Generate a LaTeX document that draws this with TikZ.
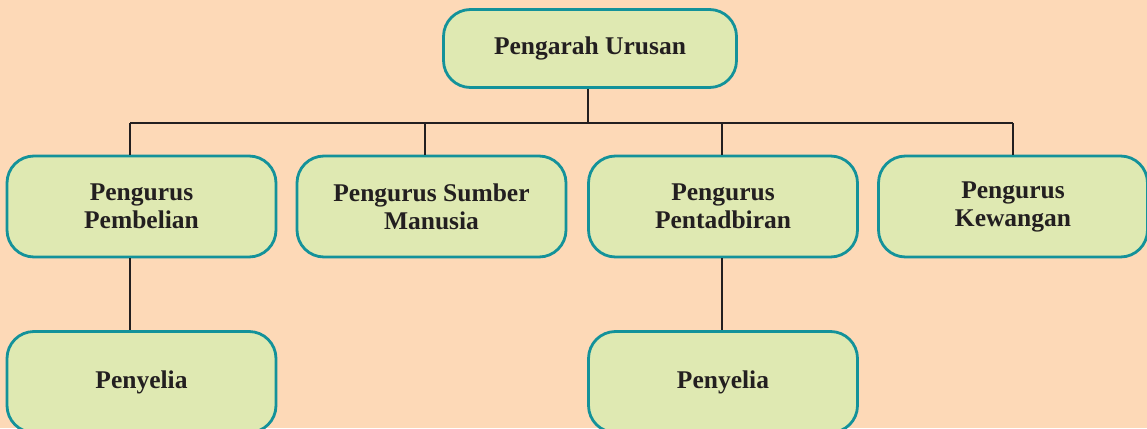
\documentclass[tikz,border=0pt]{standalone}
\usepackage{fontspec}
\setmainfont{Liberation Serif}
\definecolor{bgpeach}{HTML}{FDD9B7}
\definecolor{boxfill}{HTML}{DFE9B2}
\definecolor{boxedge}{HTML}{13929A}
\definecolor{inkdark}{HTML}{231F20}
\begin{document}
\begin{tikzpicture}[x=1pt,y=-1pt,
  orgbox/.style={draw=boxedge, fill=boxfill, line width=2.8pt, rounded corners=27pt,
    minimum width=269pt, minimum height=101pt, align=center, text=inkdark,
    font=\fontsize{25.5}{28}\selectfont\bfseries, inner sep=0pt},
  link/.style={draw=inkdark, line width=2.6pt}]
\useasboundingbox (0,0) rectangle (1147,428);
\fill[bgpeach] (0,0) rectangle (1147,428);
\node[orgbox, minimum width=293pt, minimum height=78pt] (top) at (590,48.5) {Pengarah Urusan};
\node[orgbox] (b1) at (141.5,206.5) {Pengurus\\Pembelian};
\node[orgbox] (b2) at (431.5,206.5) {Pengurus Sumber\\Manusia};
\node[orgbox] (b3) at (723,206.5) {Pengurus\\Pentadbiran};
\node[orgbox] (b4) at (1013,206.5) {Pengurus\\Kewangan};
\node[orgbox] (p1) at (141.5,382) {Penyelia};
\node[orgbox] (p3) at (723,382) {Penyelia};
\coordinate (hub) at (588,123);
\coordinate (j1) at (130,123);
\coordinate (j2) at (425,123);
\coordinate (j3) at (722,123);
\coordinate (j4) at (1013,123);
\draw[link] (top.south -| hub) -- (hub);
\draw[link] (j1) -- (j4);
\draw[link] (j1) -- (b1.north -| j1);
\draw[link] (j2) -- (b2.north -| j2);
\draw[link] (j3) -- (b3.north -| j3);
\draw[link] (j4) -- (b4.north -| j4);
\draw[link] (b1.south -| j1) -- (p1.north -| j1);
\draw[link] (b3.south -| j3) -- (p3.north -| j3);
\end{tikzpicture}
\end{document}
